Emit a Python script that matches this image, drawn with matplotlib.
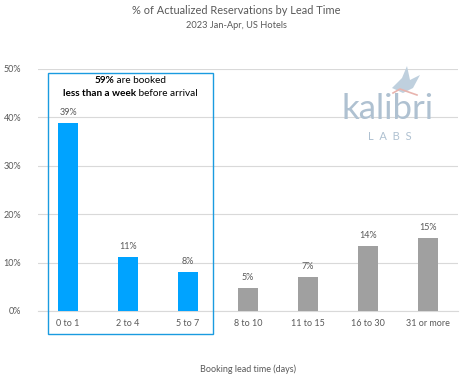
import matplotlib.pyplot as plt
from matplotlib.patches import Rectangle, Polygon
from matplotlib.offsetbox import TextArea, HPacker, VPacker, AnnotationBbox
import matplotlib.ticker as mtick

plt.rcParams['font.family'] = ['Lato', 'DejaVu Sans']

# data
categories = ['0 to 1', '2 to 4', '5 to 7', '8 to 10', '11 to 15', '16 to 30', '31 or more']
shares = [38.8, 11.2, 8.1, 4.8, 7.1, 13.4, 15.1]
labels = ['39%', '11%', '8%', '5%', '7%', '14%', '15%']
n_week = 3  # first three buckets are within a week

blue = '#00A3FF'
grey = '#A0A0A0'
txt = '#595959'

fig = plt.figure(figsize=(4.73, 3.91), dpi=100)
ax = fig.add_axes([38/473, 1-311/391, 420/473, 242/391])

x = list(range(len(categories)))
colors = [blue if i < n_week else grey for i in x]
ax.bar(x, shares, width=0.32, color=colors, zorder=3)
for i, v in enumerate(shares):
    ax.text(i, v + 1.2, labels[i], ha='center', va='bottom', fontsize=6.5, color=txt)

ax.set_xlim(-0.5, 6.5)
ax.set_ylim(0, 50)
ax.set_yticks([0, 10, 20, 30, 40, 50])
ax.yaxis.set_major_formatter(mtick.FuncFormatter(lambda v, p: '%d%%' % v))
ax.set_xticks(x)
ax.set_xticklabels(categories)
ax.tick_params(axis='both', length=0, labelsize=6.5, colors=txt)
ax.tick_params(axis='x', pad=6)
ax.tick_params(axis='y', pad=12)
ax.grid(axis='y', color='#D9D9D9', linewidth=0.8, zorder=0)
for s in ['top', 'right', 'left']:
    ax.spines[s].set_visible(False)
ax.spines['bottom'].set_color('#D9D9D9')

# highlight box
box = Rectangle((-0.34, -4.75), 2.76, 53.95, fill=False, edgecolor='#1A9BE0',
                linewidth=1.0, clip_on=False, zorder=4)
ax.add_patch(box)

fs = 7.2
line1 = HPacker(children=[TextArea('59%', textprops=dict(fontsize=fs, weight='bold', color='black')),
                          TextArea(' are booked', textprops=dict(fontsize=fs, color='black'))],
                align='baseline', pad=0, sep=0)
line2 = HPacker(children=[TextArea('less than a week', textprops=dict(fontsize=fs, weight='bold', color='black')),
                          TextArea(' before arrival', textprops=dict(fontsize=fs, color='black'))],
                align='baseline', pad=0, sep=0)
block = VPacker(children=[line1, line2], align='center', pad=0, sep=3)
ab = AnnotationBbox(block, (1.04, 48.5), xycoords='data', box_alignment=(0.5, 1.0),
                    frameon=False, zorder=5)
ax.add_artist(ab)

# watermark logo
fig.text(388/473, 1-109/391, 'kalibri', fontsize=25, color='#AFC1D1', ha='center',
         va='center', zorder=1)
fig.text(390/473, 1-136/391, 'L  A  B  S', fontsize=8, color='#AFC1D1', ha='center',
         va='center', zorder=1)
bird = Polygon([[392, 88], [402, 78], [407, 66], [410, 80], [420, 75], [413, 88], [403, 93]],
               closed=True, facecolor='#BFD0DE', edgecolor='none')
bird.set_xy([[px/100, (391-py)/100] for px, py in bird.get_xy()])
bird.set_transform(fig.dpi_scale_trans)
fig.add_artist(bird)
fig.add_artist(plt.Line2D([393/473, 400/473, 417/473], [1-93/391, 1-89/391, 1-95/391],
                          color='#E8B4AE', linewidth=1.2))

fig.text(0.5, 1-11/391, '% of Actualized Reservations by Lead Time', ha='center', va='center',
         fontsize=7.9, color=txt)
fig.text(0.5, 1-25/391, '2023 Jan-Apr, US Hotels', ha='center', va='center',
         fontsize=6.7, color=txt)
fig.text(248/473, 1-369/391, 'Booking lead time (days)', ha='center', va='center',
         fontsize=6.5, color=txt)

fig.savefig('out.png', dpi=100)
